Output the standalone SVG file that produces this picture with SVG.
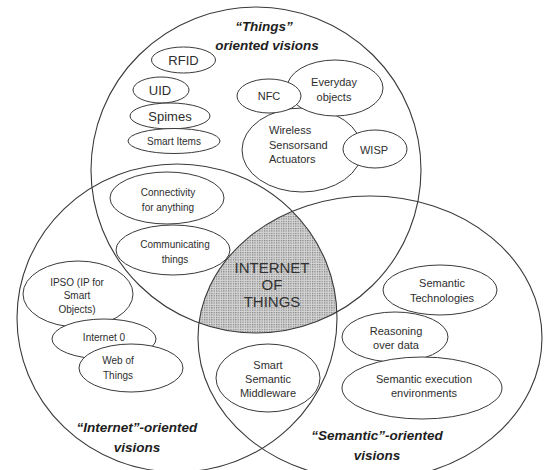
<svg xmlns="http://www.w3.org/2000/svg" width="545" height="470" viewBox="0 0 545 470">
<style>
.big{fill:none;stroke:#3a3a3a;stroke-width:1.1}
.sm{fill:#fff;stroke:#3a3a3a;stroke-width:1}
text{font-family:"Liberation Sans",Arial,sans-serif;fill:#2e2e2e;text-anchor:middle}
.t13{font-size:13px}
.t11{font-size:11px}
.t10{font-size:10px}
.ttl{font-size:13.5px;font-weight:bold;font-style:italic;fill:#1e1e1e}
.iot{font-size:15px;fill:#333}
</style>
<defs>
<pattern id="dots" width="2.4" height="2.4" patternUnits="userSpaceOnUse">
<rect width="2.4" height="2.4" fill="#d6d6d6"/>
<rect width="1.2" height="1.2" fill="#7c7c7c"/>
</pattern>
<clipPath id="cL"><ellipse cx="177" cy="318" rx="160" ry="154"/></clipPath>
<clipPath id="cR"><ellipse cx="370" cy="338" rx="172" ry="142"/></clipPath>
</defs>
<rect width="545" height="470" fill="#fff"/>
<g id="iot">
<g clip-path="url(#cL)"><g clip-path="url(#cR)"><ellipse cx="256" cy="170" rx="165" ry="163" fill="url(#dots)"/></g></g>
<text class="iot" x="272" y="273">INTERNET</text>
<text class="iot" x="272" y="290">OF</text>
<text class="iot" x="272" y="307">THINGS</text>
</g>
<g id="connectors">
<ellipse id="things-vision" class="big" cx="256" cy="170" rx="165" ry="163"/>
<ellipse id="internet-vision" class="big" cx="177" cy="318" rx="160" ry="154"/>
<ellipse id="semantic-vision" class="big" cx="370" cy="338" rx="172" ry="142"/>
</g>
<g id="titles">
<text class="ttl" x="264" y="31">“Things”</text>
<text class="ttl" x="267" y="50">oriented visions</text>
<text class="ttl" x="137" y="432">“Internet”-oriented</text>
<text class="ttl" x="137" y="452">visions</text>
<text class="ttl" x="377" y="440">“Semantic”-oriented</text>
<text class="ttl" x="377" y="460">visions</text>
</g>
<g id="rfid"><ellipse class="sm" cx="183.5" cy="60" rx="32" ry="13"/><text class="t13" x="183.5" y="64.5">RFID</text></g>
<g id="uid"><ellipse class="sm" cx="161" cy="90" rx="28" ry="13"/><text class="t13" x="160" y="94.5">UID</text></g>
<g id="spimes"><ellipse class="sm" cx="170" cy="116" rx="40" ry="13"/><text class="t13" x="170" y="120.5">Spimes</text></g>
<g id="smart-items"><ellipse class="sm" cx="174" cy="141" rx="46" ry="12.5"/><text class="t10" x="174" y="144.5">Smart Items</text></g>
<g id="wireless"><ellipse class="sm" cx="302" cy="150" rx="60" ry="42"/><text class="t11" x="269" y="134" style="text-anchor:start">Wireless</text><text class="t11" x="269" y="149" style="text-anchor:start">Sensorsand</text><text class="t11" x="269" y="163" style="text-anchor:start">Actuators</text></g>
<g id="everyday"><ellipse class="sm" cx="335" cy="88" rx="48" ry="28"/><text class="t11" x="334" y="86">Everyday</text><text class="t11" x="334" y="101">objects</text></g>
<g id="nfc"><ellipse class="sm" cx="269" cy="96" rx="32" ry="17"/><text class="t11" x="269" y="100">NFC</text></g>
<g id="wisp"><ellipse class="sm" cx="375" cy="149" rx="32" ry="19"/><text class="t11" x="374" y="154">WISP</text></g>
<g id="connectivity"><ellipse class="sm" cx="167" cy="198" rx="57" ry="26"/><text class="t10" x="168" y="195.5">Connectivity</text><text class="t10" x="168" y="210.5">for anything</text></g>
<g id="communicating"><ellipse class="sm" cx="173" cy="250" rx="57" ry="25"/><text class="t10" x="175" y="247.5">Communicating</text><text class="t10" x="175" y="262.5">things</text></g>
<g id="ipso"><ellipse class="sm" cx="78" cy="294" rx="55" ry="33"/><text class="t10" x="77" y="285.5">IPSO (IP for</text><text class="t10" x="77" y="299">Smart</text><text class="t10" x="77" y="312.5">Objects)</text></g>
<g id="internet0"><ellipse class="sm" cx="104" cy="339" rx="52" ry="20"/><text class="t10" x="104" y="340.5">Internet 0</text></g>
<g id="web-of-things"><ellipse class="sm" cx="131" cy="368" rx="52" ry="24"/><text class="t10" x="118" y="363.5">Web of</text><text class="t10" x="118" y="378.5">Things</text></g>
<g id="smart-semantic"><ellipse class="sm" cx="268" cy="378" rx="52" ry="34"/><text class="t11" x="268" y="369">Smart</text><text class="t11" x="268" y="383">Semantic</text><text class="t11" x="268" y="397">Middleware</text></g>
<g id="reasoning"><ellipse class="sm" cx="395" cy="337" rx="53" ry="25"/><text class="t11" x="396" y="335">Reasoning</text><text class="t11" x="396" y="349">over data</text></g>
<g id="sem-tech"><ellipse class="sm" cx="440" cy="290" rx="57" ry="25"/><text class="t11" x="442" y="287">Semantic</text><text class="t11" x="442" y="302">Technologies</text></g>
<g id="sem-exec"><ellipse class="sm" cx="422" cy="388" rx="80" ry="31"/><text class="t11" x="424" y="383">Semantic execution</text><text class="t11" x="424" y="397">environments</text></g>
</svg>
